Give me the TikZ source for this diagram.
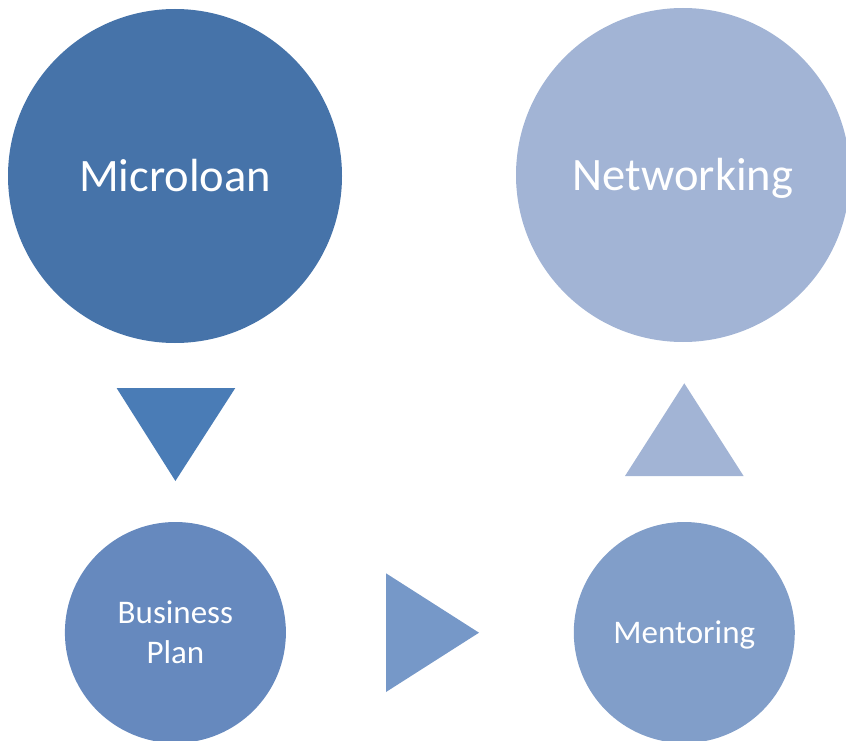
\documentclass[tikz,border=0pt]{standalone}
\usepackage{fontspec}
\setmainfont{Carlito}
\definecolor{cMicro}{HTML}{4673A9}
\definecolor{cNet}{HTML}{A2B4D5}
\definecolor{cTriA}{HTML}{4A7CB6}
\definecolor{cBiz}{HTML}{6689BE}
\definecolor{cTriB}{HTML}{7698C8}
\definecolor{cMent}{HTML}{819EC9}
\definecolor{cTriC}{HTML}{A2B4D5}
\begin{document}
\begin{tikzpicture}[x=1pt,y=-1pt,
  bigcirc/.style={circle,inner sep=0pt,minimum size=334pt,text=white,text height=30pt,text depth=0pt,font=\fontsize{46.5}{56}\selectfont},
  smallcirc/.style={circle,inner sep=0pt,minimum size=221pt,text=white,align=center,font=\fontsize{33}{40}\selectfont}]
\useasboundingbox (0,0) rectangle (846,741);
\clip (0,0) rectangle (846,741);
\node[bigcirc,fill=cMicro] (micro) at (175,176) {Microloan};
\node[bigcirc,fill=cNet] (net) at (683,175) {Networking};
\node[smallcirc,fill=cBiz] (biz) at (175.4,632.5) {Business\\Plan};
\node[smallcirc,fill=cMent,text height=21pt,text depth=0pt] (ment) at (684.3,632.5) {Mentoring};
\fill[cTriA] (116.6,388) -- (235.3,388) -- (175.4,481) -- cycle;
\fill[cTriB] (386,573.3) -- (479,632.7) -- (386,692) -- cycle;
\fill[cTriC] (625,476) -- (743.6,476) -- (684.3,383.3) -- cycle;
\end{tikzpicture}
\end{document}
